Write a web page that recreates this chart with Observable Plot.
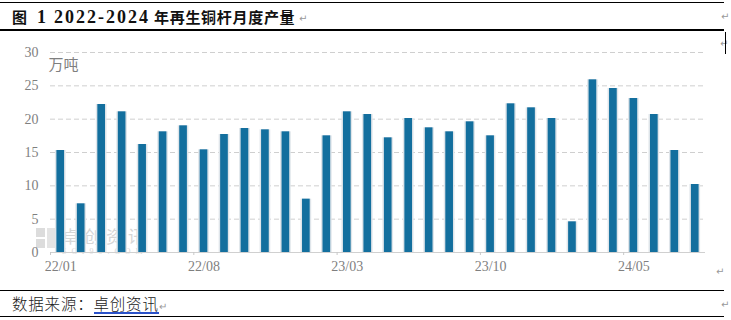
<!DOCTYPE html>
<html>
<head>
<meta charset="utf-8">
<script src="https://cdn.jsdelivr.net/npm/d3@7"></script>
<script src="https://cdn.jsdelivr.net/npm/@observablehq/plot@0.6"></script>
<style>
  html, body { margin: 0; padding: 0; background: #fff; }
  #page { position: relative; width: 731px; height: 320px; overflow: hidden; background: #fff; }
  .hline { position: absolute; left: 0; width: 724px; background: #000; }
  .mark { position: absolute; color: #999; font-size: 10px; font-family: "DejaVu Sans", sans-serif; line-height: 1; }
  #title { position: absolute; left: 12px; top: 5px; height: 24px; line-height: 24px; white-space: nowrap;
           font-family: "Noto Sans CJK SC", sans-serif; font-weight: bold; font-size: 15px; color: #111; }
  #title .lat { font-family: "Liberation Serif", serif; font-size: 18px; font-weight: bold; }
  #source { position: absolute; left: 12px; top: 292px; height: 22px; line-height: 22px; white-space: nowrap;
            font-family: "Noto Sans CJK SC", sans-serif; font-size: 15.5px; letter-spacing: 0.8px; color: #222; font-weight: 300; }
  #source .link { border-bottom: 2px double #2a52c9; line-height: 17px; display: inline-block; }
  #wm { position: absolute; left: 36px; top: 227px; color: #d6d6d6; font-family: "Noto Sans CJK SC", sans-serif; }
  #chart { position: absolute; left: 0; top: 30px; }
</style>
</head>
<body>
<div id="page">
  <div class="hline" style="top:2px;height:1px;"></div>
  <div id="title"><span>图</span><span class="lat" style="margin-left:10px">1</span><span class="lat" style="margin-left:8px;letter-spacing:2px">2022-2024</span><span style="margin-left:4px;letter-spacing:0.7px">年再生铜杆月度产量</span></div>
  <div class="mark" style="left:299px;top:14px;">↵</div>
  <div class="mark" style="left:721px;top:12px;">↵</div>
  <div class="hline" style="top:29px;height:1.5px;"></div>
  <div class="mark" style="left:720px;top:39px;">↵</div>
  <div style="position:absolute;left:725px;top:32px;width:1px;height:22px;background:#000;"></div>

  <div id="wm">
    <div style="position:absolute;left:0;top:1px;width:9px;height:9px;background:#dcdcdc;"></div>
    <div style="position:absolute;left:0;top:12px;width:9px;height:9px;background:#dcdcdc;"></div>
    <div style="position:absolute;left:11px;top:1px;width:9px;height:20px;background:#e4e4e4;"></div>
    <div style="position:absolute;left:26px;top:0;font-size:17px;line-height:17px;letter-spacing:5px;white-space:nowrap;">卓创资讯</div>
    <div style="position:absolute;left:26px;top:21px;font-size:8px;line-height:8px;letter-spacing:5px;font-family:'Liberation Serif',serif;white-space:nowrap;">SCI99.COM</div>
  </div>

  <div id="chart"></div>
  <div class="mark" style="left:716px;top:267px;">↵</div>

  <div class="hline" style="top:290px;height:1px;"></div>
  <div id="source">数据来源：<span class="link">卓创资讯</span><span style="color:#999;font-size:10px;">↵</span></div>
  <div class="mark" style="left:721px;top:300px;">↵</div>
  <div class="hline" style="top:316px;height:1px;"></div>
</div>
<script>
const months = ["22/01","22/02","22/03","22/04","22/05","22/06","22/07","22/08","22/09","22/10","22/11","22/12",
                "23/01","23/02","23/03","23/04","23/05","23/06","23/07","23/08","23/09","23/10","23/11","23/12",
                "24/01","24/02","24/03","24/04","24/05","24/06","24/07","24/08"];
const output = [15.3,7.3,22.2,21.1,16.2,18.1,19.0,15.4,17.7,18.6,18.4,18.1,
                8.0,17.5,21.1,20.7,17.2,20.1,18.7,18.1,19.6,17.5,22.3,21.7,
                20.1,4.6,25.9,24.6,23.1,20.7,15.3,10.2];
const xTickLabels = ["22/01","22/08","23/03","23/10","24/05"];
const yTicks = [0,5,10,15,20,25,30];
const unitLabel = "万吨";

const data = months.map((m, i) => ({month: m, value: output[i]}));

const chart = Plot.plot({
  width: 731,
  height: 258,
  marginLeft: 50,
  marginRight: 26,
  marginTop: 22,
  marginBottom: 36,
  style: {fontFamily: "'Liberation Serif', serif", fontSize: "14px", color: "#7f7f7f", background: "transparent", overflow: "visible"},
  x: {type: "band", domain: months, padding: 0, round: false, label: null},
  y: {domain: [0, 30], label: null},
  marks: [
    Plot.gridY(yTicks.filter(d => d > 0), {stroke: "#cfcfcf", strokeOpacity: 1, strokeDasharray: "5,3"}),
    Plot.ruleY([0], {stroke: "#d0d0d0"}),
    Plot.axisY(yTicks, {tickSize: 0, tickPadding: 12, label: null}),
    Plot.axisX(xTickLabels, {tickSize: 0, tickPadding: 9, label: null}),
    Plot.axisX(xTickLabels, {tickSize: 3, tickFormat: () => "", dx: -10.2, stroke: "#c8c8c8", label: null}),
    Plot.barY(data, {x: "month", y: "value", fill: "#dfe5ea", insetLeft: 4.9, insetRight: 4.9}),
    Plot.barY(data, {x: "month", y: "value", fill: "#136f9e", insetLeft: 6.4, insetRight: 6.4}),
    Plot.text([unitLabel], {frameAnchor: "top-left", dx: -2, dy: 13, textAnchor: "start", lineAnchor: "middle",
      fontFamily: "'Noto Sans CJK SC', sans-serif", fontSize: 15, fill: "#7f7f7f"})
  ]
});
document.getElementById("chart").appendChild(chart);
</script>
</body>
</html>
